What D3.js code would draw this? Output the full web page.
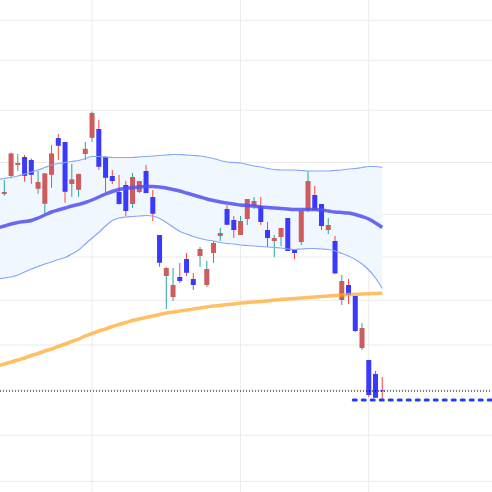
<!DOCTYPE html>
<html>
<head>
<meta charset="utf-8">
<script src="https://cdn.jsdelivr.net/npm/d3@7"></script>
<style>
  html, body { margin: 0; padding: 0; background: #fff; }
  svg { display: block; }
</style>
</head>
<body>
<div id="chart"></div>
<script>
// Daily candles (trading-day index 0..56)
var opens  = [40300,41200,41750,42150,42000,40560,39810,41260,43100,42900,40800,40510,42300,43110,43550,42150,41200,40400,40750,39800,40400,41450,40150,38250,36200,35150,36150,37050,36050,37200,35750,37350,38200,39550,39000,38250,39050,39710,39700,38500,37950,38150,39100,37500,37900,39500,40250,39800,38500,37950,35000,35750,35200,32600,32000,31300,30480];
var highs  = [41000,42370,42300,42250,42080,41450,41340,42750,43300,42910,41810,41330,42900,44420,44000,42200,41500,41250,40950,41350,40950,41750,40500,38250,36650,36600,36850,37350,36350,37650,36950,37950,38600,39750,39200,39200,40050,40150,40150,38900,38250,38600,39100,37500,39450,41450,40700,39800,39100,38200,36250,36050,35200,33850,32000,31450,31150];
var lows   = [40210,41080,41450,40910,40810,40310,39310,40610,42000,39860,40160,40160,42000,42910,41500,40380,40800,39770,39200,39610,40350,40350,38950,36660,34550,34950,35850,36200,35500,36660,35650,36850,37950,38760,38110,38250,38750,39550,38750,37650,37150,37700,37450,37050,37750,39400,39500,38500,38300,36300,34750,34800,33400,32500,30150,30110,30000];
var closes = [40400,42330,41850,41210,41260,40900,41330,42330,42710,40410,41030,41300,42560,44350,41660,41110,40950,39800,39450,41150,40950,40350,39310,36860,36600,35750,35950,36360,35750,37550,36550,37850,38350,38760,38500,38950,40050,39950,38900,38100,38100,38600,37450,37350,39450,40950,39500,38700,38750,36330,35950,35250,33450,33600,30250,30110,30450];

// Indicator series start one day before the first visible candle
var indicatorStart = -1;
var bbMid   = [38600,38700,38800,38875,38925,38975,39100,39250,39400,39500,39600,39700,39775,39875,40000,40150,40300,40425,40525,40575,40625,40650,40675,40675,40650,40600,40525,40450,40350,40250,40150,40050,39975,39900,39850,39800,39750,39725,39700,39650,39625,39600,39575,39550,39525,39525,39525,39525,39500,39450,39400,39375,39350,39275,39175,39050,38850,38625];
var bbUpper = [41025,41075,41125,41200,41300,41400,41500,41625,41750,41825,41875,41925,41975,42075,42175,42175,42150,42125,42125,42125,42125,42150,42175,42200,42225,42250,42275,42275,42250,42225,42200,42150,42075,41975,41900,41875,41850,41775,41700,41650,41575,41525,41500,41500,41500,41475,41450,41450,41450,41450,41475,41500,41550,41575,41625,41675,41675,41625];
var bbLower = [36050,36100,36150,36250,36400,36550,36675,36800,36900,37025,37125,37300,37500,37800,38100,38375,38700,38975,39100,39150,39175,39200,39225,39200,39075,38875,38650,38425,38300,38175,38075,38000,37950,37875,37825,37800,37750,37725,37700,37675,37650,37625,37600,37550,37525,37550,37575,37575,37550,37525,37450,37325,37200,37025,36800,36500,36100,35575];
var maLong  = [31700,31800,31900,32000,32100,32225,32325,32450,32550,32675,32800,32925,33050,33200,33325,33450,33550,33675,33775,33875,33975,34050,34125,34200,34275,34350,34400,34450,34500,34550,34600,34650,34700,34725,34775,34800,34850,34875,34900,34925,34950,35000,35025,35050,35075,35100,35125,35150,35175,35200,35225,35250,35275,35285,35300,35310,35325,35335];

// Grid lines
var yGridValues = [48985,46985,44485,41875,39285,37150,34985,32750,30500,28235,25935];
var monthStarts = [13, 35, 54];

// Reference levels
var supportLevel = 30000;
var supportFrom = 51.7;
var lastClose = closes[closes.length - 1];

var width = 492, height = 492;

var svg = d3.select("#chart")
    .append("svg")
    .attr("width", width)
    .attr("height", height);

var x = d3.scaleLinear().domain([-0.64, 72.26]).range([0, width]);
var y = d3.scaleLinear().domain([25400, 50000]).range([height, 0]);

// grid
svg.append("g").selectAll("line")
    .data(yGridValues)
    .enter().append("line")
    .attr("x1", 0).attr("x2", width)
    .attr("y1", d => y(d)).attr("y2", d => y(d))
    .attr("stroke", "#ebebeb").attr("stroke-width", 1);

svg.append("g").selectAll("line")
    .data(monthStarts)
    .enter().append("line")
    .attr("x1", d => x(d)).attr("x2", d => x(d))
    .attr("y1", 0).attr("y2", height)
    .attr("stroke", "#ebebeb").attr("stroke-width", 1);

// indicator rows
var ind = bbMid.map(function(m, i) {
    return {i: i + indicatorStart, mid: m, up: bbUpper[i], lo: bbLower[i], ma: maLong[i]};
});

// band fill
svg.append("path")
    .datum(ind)
    .attr("fill", "#f1f7fe")
    .attr("d", d3.area().x(d => x(d.i)).y0(d => y(d.lo)).y1(d => y(d.up)).curve(d3.curveMonotoneX));

// candles
var candles = opens.map(function(o, i) {
    return {i: i, o: o, h: highs[i], l: lows[i], c: closes[i]};
});
var bodyW = 5;
var cg = svg.append("g").selectAll("g")
    .data(candles)
    .enter().append("g");

cg.append("line")
    .attr("x1", d => x(d.i)).attr("x2", d => x(d.i))
    .attr("y1", d => y(d.h)).attr("y2", d => y(d.l))
    .attr("stroke", d => d.c >= d.o ? "#26a69a" : "#ff4136")
    .attr("stroke-width", 1);

cg.append("rect")
    .attr("x", d => x(d.i) - bodyW / 2)
    .attr("width", bodyW)
    .attr("y", d => y(Math.max(d.o, d.c)))
    .attr("height", d => Math.max(1, Math.abs(y(d.o) - y(d.c))))
    .attr("fill", d => d.c >= d.o ? "#cd5c5c" : "#3a3aff");

// band lines
var lineOf = function(key) {
    return d3.line().x(d => x(d.i)).y(d => y(d[key])).curve(d3.curveMonotoneX);
};
["up", "lo"].forEach(function(k) {
    svg.append("path").datum(ind)
        .attr("fill", "none")
        .attr("stroke", "#86a8f7")
        .attr("stroke-width", 1.2)
        .attr("d", lineOf(k));
});
svg.append("path").datum(ind)
    .attr("fill", "none")
    .attr("stroke", "rgba(80,80,240,0.85)")
    .attr("stroke-width", 3.5)
    .attr("d", lineOf("mid"));

// long moving average
svg.append("path").datum(ind)
    .attr("fill", "none")
    .attr("stroke", "rgba(255,168,40,0.72)")
    .attr("stroke-width", 3.5)
    .attr("d", lineOf("ma"));

// last close line
svg.append("line")
    .attr("x1", 0).attr("x2", width)
    .attr("y1", y(lastClose)).attr("y2", y(lastClose))
    .attr("stroke", "#000").attr("stroke-width", 1)
    .attr("stroke-dasharray", "1,2");

// support level
svg.append("line")
    .attr("x1", x(supportFrom)).attr("x2", width)
    .attr("y1", y(supportLevel)).attr("y2", y(supportLevel))
    .attr("stroke", "#1f3cff").attr("stroke-width", 3)
    .attr("stroke-linecap", "round")
    .attr("stroke-dasharray", "3,6");
</script>
</body>
</html>
